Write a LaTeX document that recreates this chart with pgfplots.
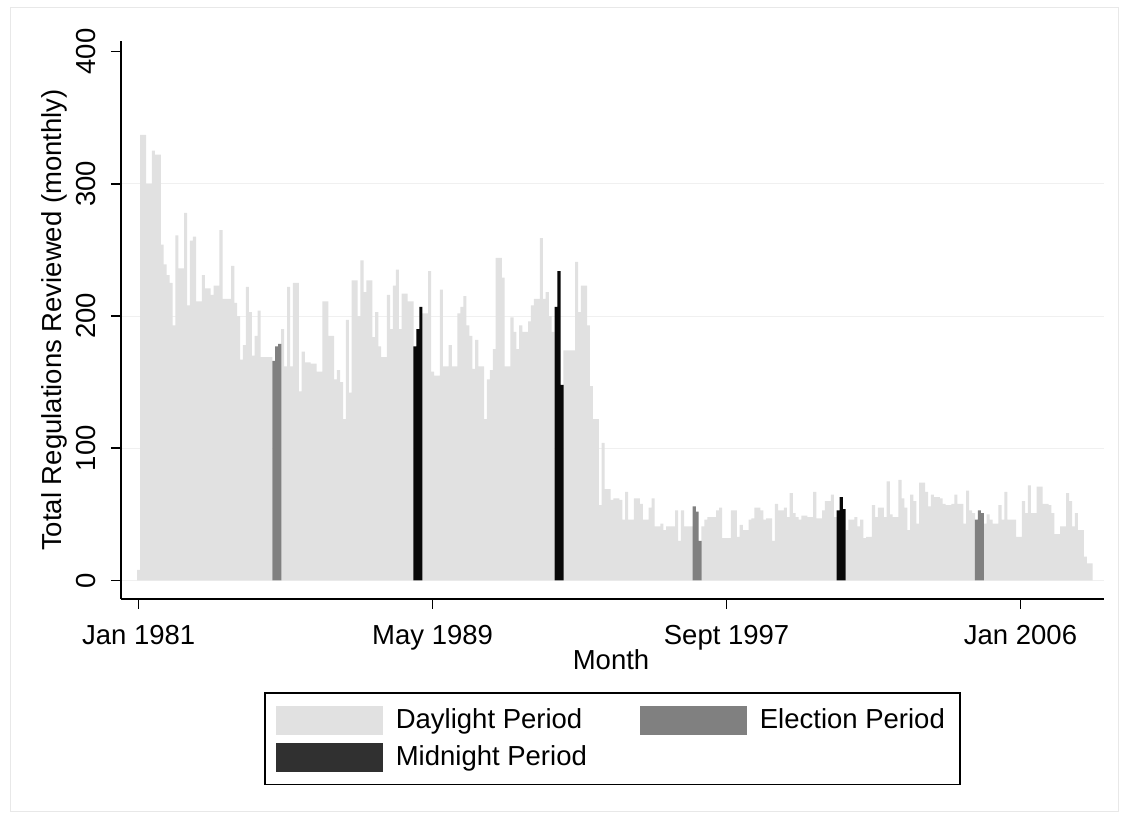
\documentclass[border=0pt]{standalone}
\usepackage{fontspec}
\setmainfont{Liberation Sans}
\usepackage{pgfplots}
\pgfplotsset{compat=1.18}
\definecolor{daylight}{HTML}{E1E1E1}
\definecolor{election}{HTML}{808080}
\definecolor{midnight}{HTML}{080808}
\definecolor{midleg}{HTML}{303030}
\newcommand{\fs}{\fontsize{13.75pt}{16pt}\selectfont}
\begin{document}
\begin{tikzpicture}
\path[use as bounding box] (0pt,0pt) rectangle (563pt,411pt);
\draw[gray!18, line width=0.5pt] (5pt,5pt) rectangle (559pt,407pt);
\begin{axis}[
  at={(60.5pt,111.5pt)}, anchor=south west,
  scale only axis, width=491.5pt, height=279pt,
  xmin=-6, xmax=328.4, ymin=-14, ymax=408,
  axis x line*=bottom, axis y line*=left,
  axis line style={black, line width=0.75pt},
  tick style={black, line width=0.75pt},
  tick align=outside, major tick length=5pt,
  xtick={0,100,200,300},
  xticklabels={Jan 1981,May 1989,Sept 1997,Jan 2006},
  ytick={0,100,200,300},
  extra y ticks={400},
  extra y tick style={grid=none},
  ymajorgrids, grid style={gray!12, line width=0.5pt},
  /pgf/number format/assume math mode=true,
  xticklabel shift=4.5pt,
  yticklabel shift=4pt,
  xticklabel style={font=\fs, anchor=north},
  yticklabel style={font=\fs, rotate=90, anchor=south},
  xlabel={Month}, ylabel={Total Regulations Reviewed (monthly)},
  xlabel style={at={(axis description cs:0.4985,-0.109)}, anchor=center, font=\fs},
  ylabel style={at={(axis description cs:-0.068,0.5)}, anchor=center, font=\fs},
  legend columns=2,
  legend cell align=left,
  legend style={at={(axis description cs:0.1455,-0.1667)}, anchor=north west,
    draw=black, line width=0.8pt, font=\fs, inner xsep=5.5pt, inner ysep=6pt,
    row sep=3pt,
    /tikz/every even column/.append style={column sep=24.5pt},
    /tikz/every odd column/.append style={column sep=4.5pt}},
]
\addplot[ybar, bar width=1.06, bar shift=0pt, fill=daylight, draw=none,
  legend image code/.code={\fill[daylight] (0pt,-7.25pt) rectangle (53.5pt,7.25pt);}]
coordinates {
(0,8)(1,337)(2,337)(3,300)(4,300)(5,325)(6,322)(7,322)(8,254)(9,239)
(10,231)(11,225)(12,193)(13,261)(14,236)(15,236)(16,278)(17,208)(18,257)(19,260)
(20,211)(21,211)(22,231)(23,221)(24,221)(25,216)(26,223)(27,223)(28,265)(29,213)
(30,213)(31,213)(32,238)(33,210)(34,200)(35,167)(36,178)(37,222)(38,203)(39,170)
(40,185)(41,204)(42,169)(43,169)(44,169)(45,169)
(49,190)
(50,162)(51,222)(52,162)(53,225)(54,225)(55,143)(56,173)(57,165)(58,165)(59,164)
(60,164)(61,158)(62,158)(63,211)(64,211)(65,185)(66,185)(67,152)(68,159)(69,150)
(70,122)(71,197)(72,142)(73,227)(74,227)(75,200)(76,242)(77,218)(78,227)(79,227)
(80,184)(81,203)(82,177)(83,169)(84,169)(85,216)(86,190)(87,223)(88,235)(89,190)
(90,217)(91,217)(92,211)(93,211)
(97,202)(98,202)(99,234)
(100,158)(101,155)(102,155)(103,220)(104,162)(105,162)(106,178)(107,162)(108,162)(109,202)
(110,207)(111,215)(112,193)(113,185)(114,160)(115,182)(116,162)(117,162)(118,122)(119,152)
(120,159)(121,175)(122,244)(123,244)(124,229)(125,162)(126,162)(127,199)(128,188)(129,175)
(130,193)(131,188)(132,188)(133,196)(134,208)(135,213)(136,213)(137,259)(138,213)(139,218)
(140,200)(141,188)
(145,174)(146,174)(147,174)(148,174)(149,241)
(150,203)(151,223)(152,223)(153,193)(154,147)(155,122)(156,122)(157,57)(158,104)(159,69)
(160,69)(161,61)(162,62)(163,62)(164,61)(165,46)(166,67)(167,46)(168,46)(169,62)
(170,62)(171,58)(172,46)(173,46)(174,55)(175,62)(176,41)(177,41)(178,43)(179,38)
(180,41)(181,41)(182,41)(183,53)(184,30)(185,53)(186,41)(187,41)(188,41)
(192,41)(193,46)(194,48)(195,48)(196,48)(197,53)(198,55)(199,32)
(200,32)(201,32)(202,53)(203,53)(204,33)(205,42)(206,38)(207,38)(208,46)(209,47)
(210,55)(211,55)(212,53)(213,46)(214,47)(215,47)(216,30)(217,58)(218,53)(219,53)
(220,55)(221,48)(222,66)(223,51)(224,48)(225,46)(226,49)(227,49)(228,48)(229,48)
(230,67)(231,47)(232,47)(233,53)(234,60)(235,60)(236,65)(237,48)
(241,38)(242,46)(243,46)(244,48)(245,41)(246,46)(247,32)(248,33)(249,33)
(250,57)(251,48)(252,55)(253,55)(254,48)(255,75)(256,50)(257,48)(258,48)(259,76)
(260,62)(261,55)(262,38)(263,65)(264,60)(265,43)(266,74)(267,74)(268,67)(269,56)
(270,65)(271,63)(272,63)(273,62)(274,58)(275,57)(276,57)(277,58)(278,65)(279,58)
(280,58)(281,43)(282,68)(283,53)(284,51)
(288,43)(289,50)
(290,46)(291,43)(292,43)(293,57)(294,46)(295,67)(296,46)(297,46)(298,46)(299,33)
(300,33)(301,60)(302,51)(303,72)(304,51)(305,51)(306,71)(307,71)(308,58)(309,58)
(310,57)(311,51)(312,35)(313,35)(314,41)(315,41)(316,66)(317,60)(318,41)(319,51)
(320,38)(321,38)(322,18)(323,13)(324,13)
};
\addlegendentry{Daylight Period}
\addplot[ybar, bar width=1.06, bar shift=0pt, fill=election, draw=none,
  legend image code/.code={\fill[election] (0pt,-7.25pt) rectangle (53.5pt,7.25pt);}]
coordinates {(46,166)(47,177)(48,179)(189,56)(190,52)(191,30)(285,46)(286,53)(287,51)};
\addlegendentry{Election Period}
\addplot[ybar, bar width=1.06, bar shift=0pt, fill=midnight, draw=none,
  legend image code/.code={\fill[midleg] (0pt,-7.25pt) rectangle (53.5pt,7.25pt);}]
coordinates {(94,177)(95,190)(96,207)(142,207)(143,234)(144,148)(238,53)(239,63)(240,54)};
\addlegendentry{Midnight Period}
\end{axis}
\end{tikzpicture}
\end{document}
